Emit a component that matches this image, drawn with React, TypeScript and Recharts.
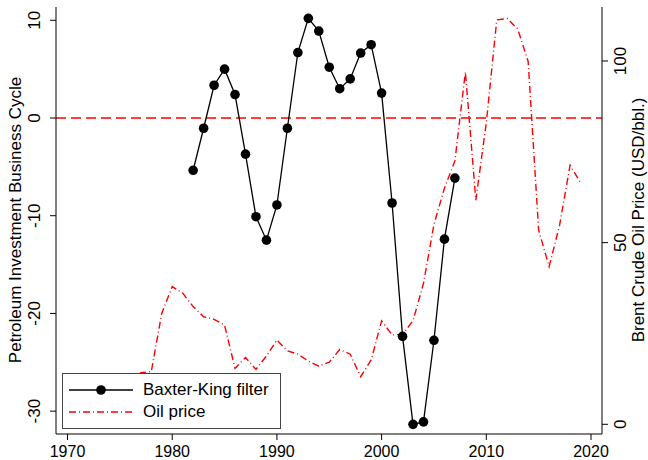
import React from "react";
import {
  ComposedChart,
  Line,
  XAxis,
  YAxis,
  ReferenceLine,
  Legend,
} from "recharts";

const FONT = '"Liberation Sans", Arial, Helvetica, sans-serif';

// years 1970..2019
const years: number[] = [
  1970, 1971, 1972, 1973, 1974, 1975, 1976, 1977, 1978, 1979,
  1980, 1981, 1982, 1983, 1984, 1985, 1986, 1987, 1988, 1989,
  1990, 1991, 1992, 1993, 1994, 1995, 1996, 1997, 1998, 1999,
  2000, 2001, 2002, 2003, 2004, 2005, 2006, 2007, 2008, 2009,
  2010, 2011, 2012, 2013, 2014, 2015, 2016, 2017, 2018, 2019,
];

// Brent crude, USD/bbl (right axis)
const oilPrice: number[] = [
  1.2, 1.7, 1.8, 2.8, 11.0, 10.4, 11.6, 14.2, 14.5, 30.5,
  37.9, 36.1, 32.4, 29.6, 28.9, 27.3, 15.4, 18.4, 15.1, 18.8,
  23.2, 20.2, 19.3, 17.4, 16.0, 17.1, 20.6, 19.3, 13.1, 17.7,
  28.5, 24.6, 24.8, 28.5, 38.8, 55.0, 65.0, 72.5, 97.0, 61.7,
  83.0, 111.3, 111.7, 108.8, 99.8, 53.4, 43.4, 54.8, 71.3, 66.5,
];

// Baxter-King filtered investment cycle, 1982..2007 (left axis)
const bkYears: number[] = [
  1982, 1983, 1984, 1985, 1986, 1987, 1988, 1989, 1990, 1991, 1992, 1993, 1994,
  1995, 1996, 1997, 1998, 1999, 2000, 2001, 2002, 2003, 2004, 2005, 2006, 2007,
];
const bkCycle: number[] = [
  -5.35, -1.05, 3.35, 5.0, 2.4, -3.7, -10.1, -12.5, -8.9, -1.05, 6.7, 10.2, 8.9,
  5.2, 3.0, 4.0, 6.65, 7.5, 2.55, -8.7, -22.35, -31.35, -31.1, -22.75, -12.4, -6.15,
];

const xTicks = [1970, 1980, 1990, 2000, 2010, 2020];
const leftTicks = [-30, -20, -10, 0, 10];
const rightTicks = [0, 50, 100];

const chartData = years.map((year, i) => {
  const j = bkYears.indexOf(year);
  return {
    year,
    oil: oilPrice[i],
    bk: j >= 0 ? bkCycle[j] : null,
  };
});

function LeftTick(props: any) {
  const { y, payload } = props;
  return (
    <text
      x={40}
      y={y}
      transform={`rotate(-90, 40, ${y})`}
      textAnchor="middle"
      fontSize={17}
      fontFamily={FONT}
      fill="#000"
    >
      {payload.value}
    </text>
  );
}

function RightTick(props: any) {
  const { y, payload } = props;
  return (
    <text
      x={626}
      y={y}
      transform={`rotate(-90, 626, ${y})`}
      textAnchor="middle"
      fontSize={17}
      fontFamily={FONT}
      fill="#000"
    >
      {payload.value}
    </text>
  );
}

// kept a bit higher so the glyph box stays inside the 460px frame
function BottomTick(props: any) {
  const { x, payload } = props;
  return (
    <text x={x} y={456.5} textAnchor="middle" fontSize={16} fontFamily={FONT} fill="#000">
      {payload.value}
    </text>
  );
}

function AxisTitle({ x, y, text }: { x: number; y: number; text: string }) {
  return (
    <text
      x={x}
      y={y}
      transform={`rotate(-90, ${x}, ${y})`}
      textAnchor="middle"
      fontSize={17}
      fontFamily={FONT}
      fill="#000"
    >
      {text}
    </text>
  );
}

function LegendBox() {
  return (
    <div
      style={{
        position: "relative",
        width: 219,
        height: 56,
        boxSizing: "border-box",
        border: "1px solid #444",
        background: "#fff",
        fontFamily: FONT,
        fontSize: 17,
        color: "#000",
      }}
    >
      <svg width={219} height={56} style={{ position: "absolute", left: -1, top: -1 }}>
        <line x1={7} y1={17} x2={71} y2={17} stroke="#000" strokeWidth={1.3} />
        <circle cx={39} cy={17} r={4.8} fill="#000" />
        <line
          x1={7}
          y1={39}
          x2={71}
          y2={39}
          stroke="#ff0000"
          strokeWidth={1.4}
          strokeDasharray="7 3 1 3"
        />
      </svg>
      <div style={{ position: "absolute", left: 80, top: 6, lineHeight: "20px" }}>
        Baxter-King filter
      </div>
      <div style={{ position: "absolute", left: 80, top: 28, lineHeight: "20px" }}>
        Oil price
      </div>
    </div>
  );
}

export default function App() {
  return (
    <div style={{ position: "absolute", left: 0, top: 0, width: 648, height: 460, background: "#fff" }}>
      <ComposedChart
        width={648}
        height={460}
        data={chartData}
        margin={{ top: 7, right: 0, bottom: 0, left: 0 }}
      >
        <XAxis
          dataKey="year"
          type="number"
          domain={[1968.9, 2021.05]}
          ticks={xTicks}
          allowDataOverflow
          height={26}
          tickSize={6}
          stroke="#000"
          tick={<BottomTick />}
        />
        <YAxis
          yAxisId="left"
          orientation="left"
          width={56}
          domain={[-32.34, 11.36]}
          ticks={leftTicks}
          allowDataOverflow
          tickSize={6}
          stroke="#000"
          tick={<LeftTick />}
          label={{ content: () => <AxisTitle x={21} y={220} text="Petroleum Investment Business Cycle" /> }}
        />
        <YAxis
          yAxisId="right"
          orientation="right"
          width={46}
          domain={[-2.67, 114.86]}
          ticks={rightTicks}
          allowDataOverflow
          tickSize={6}
          stroke="#000"
          tick={<RightTick />}
          label={{ content: () => <AxisTitle x={644} y={220} text="Brent Crude Oil Price (USD/bbl.)" /> }}
        />
        <ReferenceLine
          yAxisId="left"
          y={0}
          stroke="#ff0000"
          strokeWidth={1.6}
          strokeDasharray="10 5"
        />
        <Line
          yAxisId="right"
          dataKey="oil"
          type="linear"
          stroke="#ff0000"
          strokeWidth={1.4}
          strokeDasharray="7 3 1 3"
          dot={false}
          isAnimationActive={false}
        />
        <Line
          yAxisId="left"
          dataKey="bk"
          type="linear"
          stroke="#000"
          strokeWidth={1.3}
          dot={{ r: 4.8, fill: "#000", stroke: "#000", strokeWidth: 0 }}
          connectNulls={false}
          isAnimationActive={false}
        />
        <Legend
          layout="horizontal"
          verticalAlign="middle"
          align="center"
          wrapperStyle={{ left: 62, top: 373, width: 219, height: 56 }}
          content={() => <LegendBox />}
        />
      </ComposedChart>
    </div>
  );
}
